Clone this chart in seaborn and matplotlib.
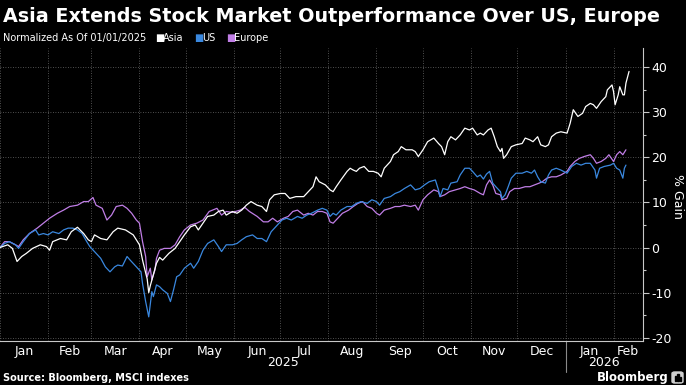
import pandas as pd
import matplotlib
matplotlib.use("Agg")
import matplotlib.pyplot as plt
import matplotlib.dates as mdates
from matplotlib.ticker import MultipleLocator, NullFormatter
from matplotlib.patches import FancyBboxPatch, Rectangle
import seaborn as sns

# values: days since 01/01/2025 and % gain
asia_days = [0, 5, 8, 11, 14, 17, 21, 26, 30, 32, 34, 39, 43, 46, 50, 54, 57, 59, 61, 65,
             69, 73, 76, 81, 86, 90, 92, 95, 96, 97, 99, 101, 103, 105, 109, 113, 116, 119, 123, 126,
             128, 131, 134, 138, 141, 144, 146, 150, 153, 156, 159, 162, 166, 169, 172, 174, 177, 181, 184, 187,
             191, 196, 199, 202, 204, 206, 210, 213, 215, 217, 220, 224, 226, 228, 230, 232, 235, 238, 241, 244,
             246, 248, 252, 254, 257, 259, 262, 266, 268, 270, 273, 276, 280, 283, 285, 287, 289, 291, 294, 297,
             300, 303, 305, 308, 310, 312, 315, 317, 319, 321, 323, 324, 325, 327, 330, 333, 337, 339, 342, 344,
             347, 349, 352, 354, 356, 359, 362, 366, 368, 370, 373, 376, 378, 381, 383, 385, 388, 391, 392, 395,
             396, 397, 399, 400, 402, 403, 404, 406]
asia_vals = [0, 0.6, -0.2, -3.1, -2, -1.3, -0.2, 0.6, 0.2, -0.6, 1.3, 2, 1.7, 3.5, 4.5, 3.1, 1.7, 1.3, 2.8, 2,
             1.7, 3.5, 4.3, 3.9, 2.8, 0.6, -2.8, -7, -10, -8.5, -6, -3.5, -2.2, -2.8, -1.3, -0.2, 1.3, 2.8, 4.6, 5,
             3.9, 5.4, 6.9, 7.2, 8, 8.3, 7.2, 8, 7.6, 8.3, 9.4, 10.2, 9.4, 9.1, 8, 10.6, 11.7, 12, 12, 10.9,
             11.3, 11.3, 12.4, 13.5, 15.7, 14.6, 13.9, 12.8, 12.4, 13.5, 15, 16.9, 17.6, 17.2, 16.9, 17.6, 18, 16.9, 16.9, 16.5,
             15.7, 17.6, 19.1, 20.6, 21.3, 22.4, 21.7, 21.7, 21.3, 20.2, 21.7, 23.5, 24.3, 23.1, 22.4, 20.6, 23.5, 24.6, 23.9, 25,
             26.5, 26.1, 26.5, 25, 25.4, 25, 26.1, 26.5, 24.6, 22.4, 21.3, 22, 19.8, 20.6, 22.4, 22.8, 23.1, 24.3, 23.9, 23.5,
             24.6, 22.8, 22.4, 22.8, 24.6, 25.4, 25.7, 25.4, 27.6, 30.6, 29.1, 29.8, 31.3, 32, 31.7, 30.9, 32.4, 33.5, 35, 36.1,
             34.6, 31.7, 33.9, 35.7, 33.9, 33.9, 36.5, 39.1]

us_days = [0, 3, 6, 10, 12, 15, 19, 23, 25, 28, 31, 34, 38, 41, 44, 47, 50, 53, 56, 58,
           61, 65, 68, 71, 74, 76, 79, 82, 84, 87, 89, 91, 92, 94, 96, 98, 99, 101, 103, 105,
           108, 110, 112, 114, 116, 119, 123, 125, 128, 131, 134, 138, 141, 143, 146, 150, 153, 156, 159, 163,
           166, 169, 172, 175, 179, 182, 185, 188, 192, 195, 198, 201, 205, 208, 211, 213, 215, 217, 220, 224,
           227, 230, 233, 237, 240, 243, 245, 248, 252, 255, 258, 261, 265, 268, 271, 274, 277, 281, 283, 284,
           286, 289, 291, 295, 297, 300, 303, 305, 308, 310, 312, 314, 316, 318, 320, 323, 324, 326, 328, 330,
           333, 337, 340, 343, 345, 347, 349, 352, 354, 356, 359, 362, 366, 369, 372, 375, 378, 381, 384, 385,
           387, 390, 394, 396, 398, 400, 402, 403, 404]
us_vals = [0, 0.9, 1.3, 0.6, -0.2, 1.3, 3.1, 3.9, 2.8, 3.1, 2.8, 3.5, 3.1, 3.9, 4.3, 4.3, 3.9, 3.1, 1.3, 0.2,
           -0.9, -2.4, -4.3, -5.4, -4.3, -3.9, -4.1, -2, -2.8, -3.9, -4.6, -5.4, -8, -12, -15.4, -9.8, -10.9, -8.3, -8.7, -9.4,
           -10.2, -12, -9.4, -6.5, -6.1, -4.6, -3.5, -4.6, -3.1, -0.6, 0.9, 1.7, 0.2, -0.9, 0.6, 0.6, 0.9, 1.7, 2.4, 2.8,
           2, 2, 1.3, 3.5, 5, 6.1, 6.5, 6.1, 6.9, 6.5, 7.2, 7.6, 8.3, 8.7, 8.3, 6.9, 7.6, 7.2, 8.3, 9.1,
           9.1, 9.8, 10.2, 9.8, 10.6, 10.2, 9.4, 10.9, 11.3, 12, 12.4, 13.1, 13.9, 12.8, 13.1, 13.9, 14.6, 15, 12.8, 11.3,
           13.1, 12.8, 14.3, 14.6, 16.1, 17.6, 17.6, 16.9, 15.7, 16.1, 15.2, 16.3, 16.9, 14.3, 13.5, 12.4, 10.9, 11.7, 13.5, 15.4,
           16.5, 16.5, 16.9, 16.5, 17.2, 15.7, 14.6, 14.3, 16.1, 17.2, 17.6, 17.2, 16.5, 18, 18.7, 18.3, 18.7, 18.7, 17.2, 15.4,
           17.6, 18, 18.3, 18.7, 17.6, 17.2, 15.4, 17.6, 18.3]

europe_days = [0, 3, 6, 10, 12, 15, 19, 24, 28, 32, 37, 41, 45, 50, 54, 57, 60, 62, 66, 69,
               72, 75, 79, 82, 85, 88, 90, 92, 94, 95, 97, 98, 100, 101, 103, 106, 110, 113, 116, 119,
               123, 127, 131, 135, 140, 143, 146, 150, 155, 158, 161, 166, 170, 173, 176, 179, 183, 186, 189, 192,
               196, 199, 202, 205, 208, 211, 213, 215, 218, 221, 225, 228, 231, 234, 237, 240, 243, 245, 248, 252,
               255, 258, 261, 265, 268, 270, 273, 276, 280, 283, 284, 287, 290, 294, 297, 300, 303, 306, 310, 312,
               314, 316, 318, 320, 323, 324, 327, 329, 332, 335, 339, 342, 345, 348, 350, 353, 356, 359, 362, 366,
               368, 371, 374, 377, 381, 383, 385, 388, 391, 393, 396, 398, 400, 402, 404]
europe_vals = [0, 1.3, 1.3, 0.6, 0.2, 1.7, 3.1, 4.3, 5.4, 6.5, 7.6, 8.3, 9.1, 9.4, 10.2, 10.2, 11.1, 9.4, 8.7, 6.1,
               7.2, 9.1, 9.4, 8.7, 7.6, 6.1, 5.4, 1.3, -2, -6.5, -4.6, -7.2, -5, -2.4, -0.6, -0.2, -0.2, 0.6, 2.4, 3.9,
               5, 5.4, 6.1, 8, 8.7, 7.2, 8, 7.8, 8.3, 8.9, 8, 6.9, 5.7, 5.7, 6.5, 5.7, 6.5, 6.9, 8, 8.3,
               7.2, 7.6, 7.2, 8, 8, 7.6, 5.7, 5.4, 6.5, 7.6, 8.3, 9.1, 9.8, 10.2, 9.1, 8.7, 7.6, 7.2, 8.3, 8.7,
               9.1, 9.1, 9.4, 9.1, 9.4, 8.3, 10.6, 11.7, 12.8, 12.4, 11.3, 11.7, 12.4, 12.8, 13.1, 13.5, 13.1, 12.8, 12, 11.7,
               13.9, 15, 13.9, 12, 11.7, 10.6, 10.9, 12.4, 13.1, 13.1, 13.5, 13.5, 13.9, 14.3, 14.6, 15.4, 15.7, 15.7, 16.1, 16.9,
               18, 19.1, 19.8, 20.2, 20.6, 19.8, 18.7, 19.1, 19.8, 20.6, 19.1, 20.6, 21.3, 20.6, 21.7]

month_labels = ["Jan", "Feb", "Mar", "Apr", "May", "Jun", "Jul", "Aug", "Sep", "Oct", "Nov", "Dec", "Jan", "Feb"]
year_labels = ["2025", "2026"]
y_ticks = [-20, -10, 0, 10, 20, 30, 40]

palette = {"Asia": "#ffffff", "US": "#3a88df", "Europe": "#c07ee6"}

start = pd.Timestamp("2025-01-01")
end = start + pd.Timedelta(days=415)


def to_frame(name, days, vals):
    return pd.DataFrame({"Date": start + pd.to_timedelta(days, unit="D"),
                         "Gain": vals, "Index": name})


df = pd.concat([to_frame("Europe", europe_days, europe_vals),
                to_frame("US", us_days, us_vals),
                to_frame("Asia", asia_days, asia_vals)], ignore_index=True)

sns.set_theme(style="dark", rc={"axes.facecolor": "black", "figure.facecolor": "black",
                                "text.color": "white", "axes.unicode_minus": False})
plt.rcParams["font.family"] = ["DejaVu Sans"]

fig = plt.figure(figsize=(6.86, 3.85), dpi=100)
ax = fig.add_axes([0.0, 0.1143, 0.9373, 0.761])

sns.lineplot(data=df, x="Date", y="Gain", hue="Index", palette=palette,
             hue_order=["Europe", "US", "Asia"], estimator=None, linewidth=0.9,
             legend=False, ax=ax)

ax.set_xlim(start, end)
ax.set_ylim(-20.76, 44.3)
ax.set_xlabel("")
ax.set_ylabel("")

for s in ["left", "top"]:
    ax.spines[s].set_visible(False)
for s in ["right", "bottom"]:
    ax.spines[s].set_color("#c8c8c8")
    ax.spines[s].set_linewidth(0.8)

# y axis on the right
ax.yaxis.tick_right()
ax.set_yticks(y_ticks)
ax.yaxis.set_minor_locator(MultipleLocator(5))
ax.tick_params(axis="y", which="major", length=4, width=0.8, color="#c8c8c8",
               labelcolor="white", labelsize=9, pad=2)
ax.tick_params(axis="y", which="minor", length=2.5, width=0.8, color="#c8c8c8")

# months: ticks on boundaries, labels in the middle
month_starts = pd.date_range(start, end, freq="MS")
edges = list(month_starts) + [end]
mids = [edges[i] + (edges[i + 1] - edges[i]) / 2 for i in range(len(month_starts))]
ax.xaxis.set_major_locator(mdates.MonthLocator())
ax.xaxis.set_major_formatter(NullFormatter())
ax.set_xticks(mids, minor=True)
ax.set_xticklabels(month_labels, minor=True)
ax.tick_params(axis="x", which="major", length=3, width=0.8, direction="inout", color="#c8c8c8")
ax.tick_params(axis="x", which="minor", length=0, labelsize=9, labelcolor="white", pad=3)

ax.grid(True, which="major", axis="both", color="#6a6a6a", linestyle=(0, (1, 2)), linewidth=0.6)

trans = ax.get_xaxis_transform()
jan26 = pd.Timestamp("2026-01-01")
ax.text(start + (jan26 - start) / 2, -0.075, year_labels[0], transform=trans,
        ha="center", va="center", fontsize=9, color="white")
ax.text(jan26 + (end - jan26) / 2, -0.075, year_labels[1], transform=trans,
        ha="center", va="center", fontsize=9, color="white")
ax.plot([jan26, jan26], [0, -0.106], transform=trans, clip_on=False, color="#8a8a8a", lw=0.8)

W, H = 686, 385
fig.text(3 / W, 1 - 16 / H, "Asia Extends Stock Market Outperformance Over US, Europe",
         fontsize=13.8, weight="bold", color="white", va="center", ha="left")
fig.text(3 / W, 1 - 38 / H, "Normalized As Of 01/01/2025", fontsize=7, color="white", va="center")
for xs, xt, name in [(155, 163, "Asia"), (194, 202, "US"), (226, 234, "Europe")]:
    fig.text(xs / W, 1 - 38 / H, "\u25a0", fontsize=7, color=palette[name], va="center")
    fig.text(xt / W, 1 - 38 / H, name, fontsize=7, color="white", va="center")

fig.text(677 / W, 1 - 196 / H, "% Gain", rotation=270, fontsize=9, color="white",
         ha="center", va="center")

fig.text(3 / W, 1 - 378 / H, "Source: Bloomberg, MSCI indexes", fontsize=7, weight="bold",
         color="white", va="center")
fig.text(669 / W, 1 - 377 / H, "Bloomberg", fontsize=8.5, weight="bold", color="white",
         ha="right", va="center")
fig.patches.append(FancyBboxPatch((672 / W, 1 - 383 / H), 11 / W, 11 / H,
                                  boxstyle="round,pad=0,rounding_size=0.004",
                                  transform=fig.transFigure, color="#d0d0d0"))
for bx, bh in [(674.5, 5), (677, 7), (679.5, 4)]:
    fig.patches.append(Rectangle((bx / W, 1 - 381 / H), 1.5 / W, bh / H,
                                 transform=fig.transFigure, color="black"))

fig.savefig("out.png", dpi=100, facecolor="black")
